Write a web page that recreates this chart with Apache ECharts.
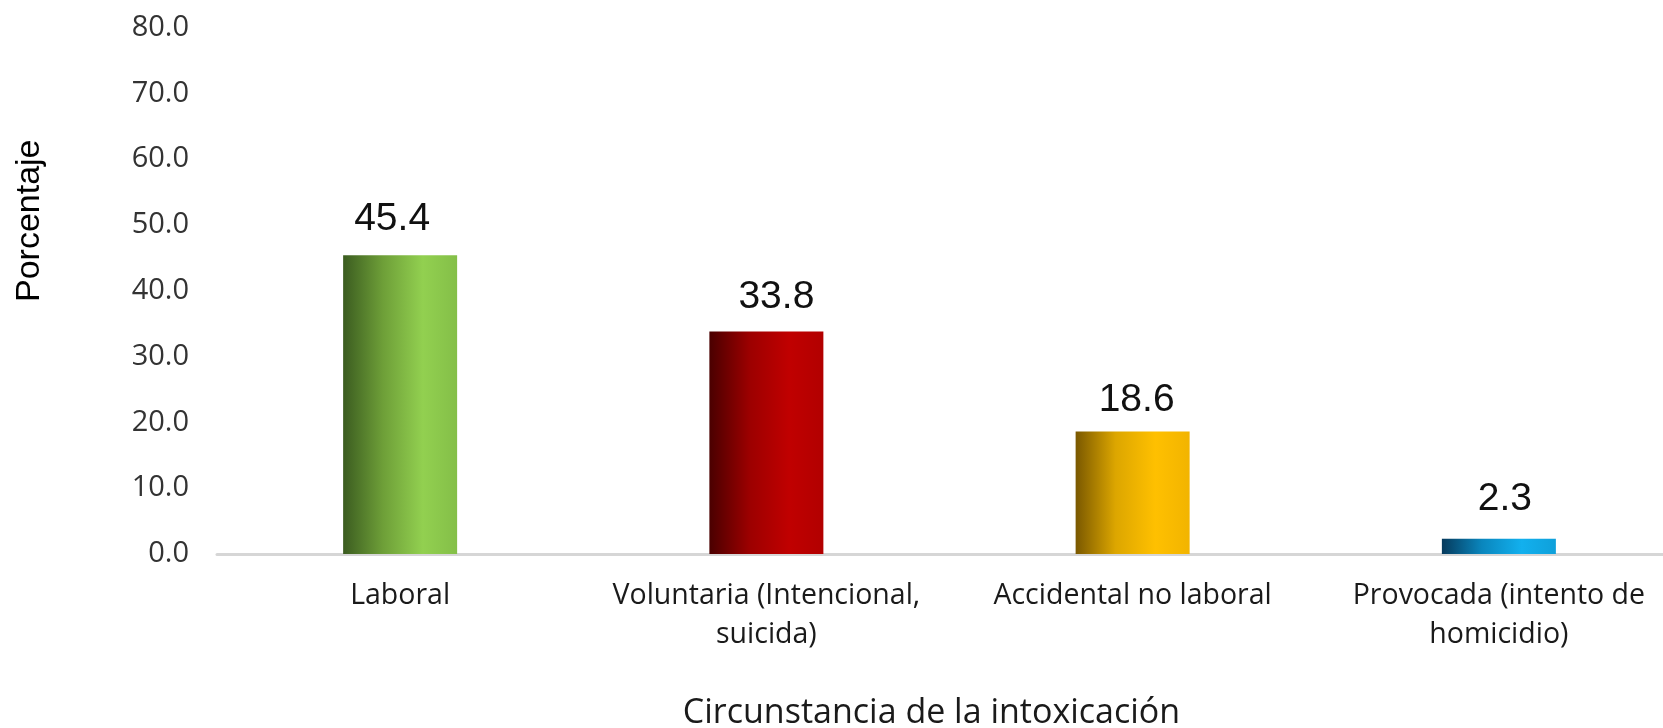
<!DOCTYPE html>
<html>
<head>
<meta charset="utf-8">
<script src="https://cdn.jsdelivr.net/npm/echarts@6/dist/echarts.min.js"></script>
<style>
  html, body { margin: 0; padding: 0; background: #fff; }
  #chart { width: 1663px; height: 728px; }
</style>
</head>
<body>
<div id="chart"></div>
<script>
// datos del grafico
const categorias = ['Laboral', 'Voluntaria (Intencional,\nsuicida)', 'Accidental no laboral', 'Provocada (intento de\nhomicidio)']
const porcentajes = [45.4, 33.8, 18.6, 2.3]
// degradado por barra: oscuro a la izquierda, claro a la derecha
const gradientes = [
  ['#3b5c20', '#6e9f38', '#92d050', '#84bf48'],
  ['#4a0000', '#9c0000', '#c00000', '#b20000'],
  ['#7a5800', '#dca600', '#ffc000', '#f2b400'],
  ['#063a5c', '#0a86bd', '#12b0ee', '#0fa0da'],
]
// las etiquetas del original no estan centradas exactamente
const etiquetaDist = [16, 15, 12, 20]
const etiquetaDx = [-8, 10, 4, 6]

const myChart = echarts.init(document.getElementById('chart'))

let datos = []
for (let i = 0; i < porcentajes.length; i++) {
  const g = gradientes[i]
  datos.push({
    value: porcentajes[i],
    label: { distance: etiquetaDist[i], offset: [etiquetaDx[i], 0] },
    itemStyle: {
      color: {
        type: 'linear', x: 0, y: 0, x2: 1, y2: 0,
        colorStops: [
          { offset: 0, color: g[0] },
          { offset: 0.35, color: g[1] },
          { offset: 0.7, color: g[2] },
          { offset: 1, color: g[3] },
        ],
      },
    },
  })
}

myChart.setOption({
  animation: false,
  grid: {
    left: 217,
    top: 27.5,
    width: 1465,
    bottom: 174,
    outerBoundsMode: 'none', // sin recortes automaticos
  },
  xAxis: {
    type: 'category',
    data: categorias,
    name: 'Circunstancia de la intoxicación',
    nameLocation: 'middle',
    nameGap: 142,
    nameTextStyle: {
      fontFamily: 'Open Sans',
      fontSize: 34,
      color: '#1a1a1a',
      padding: [0, 36, 0, 0],
    },
    axisLine: { lineStyle: { color: '#d6d6d6', width: 3 } },
    axisTick: { show: false },
    axisLabel: {
      interval: 0,
      margin: 22,
      fontFamily: 'Open Sans',
      fontSize: 28.5,
      lineHeight: 39,
      color: '#1a1a1a',
    },
  },
  yAxis: {
    type: 'value',
    min: 0,
    max: 80,
    interval: 10,
    name: 'Porcentaje',
    nameLocation: 'middle',
    nameGap: 170,
    nameTextStyle: {
      fontFamily: 'Liberation Sans',
      fontSize: 34,
      color: '#000',
      padding: [0, 0, 0, 140],
    },
    axisLine: { show: false },
    axisTick: { show: false },
    splitLine: { show: false },
    axisLabel: {
      margin: 28,
      fontFamily: 'Open Sans',
      fontSize: 29,
      color: '#333',
      formatter: (v) => v.toFixed(1),
    },
  },
  series: [{
    type: 'bar',
    data: datos,
    barWidth: 114,
    label: {
      show: true,
      position: 'top',
      fontFamily: 'Liberation Sans',
      fontSize: 39,
      color: '#111',
      formatter: (p) => p.value.toFixed(1),
    },
  }],
})
</script>
</body>
</html>
